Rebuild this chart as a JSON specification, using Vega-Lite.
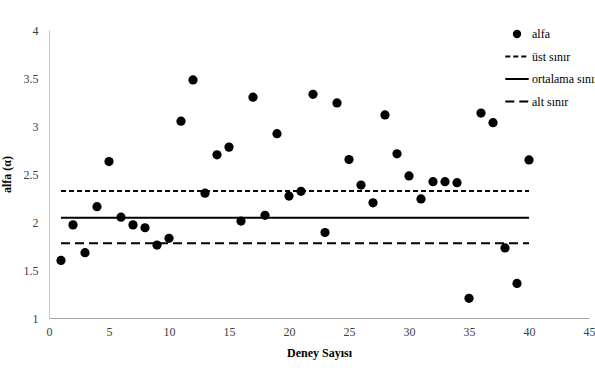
{
  "$schema": "https://vega.github.io/schema/vega-lite/v6.json",
  "width": 540,
  "height": 288,
  "autosize": {"type": "none"},
  "padding": {"left": 49, "top": 30, "right": 6, "bottom": 55},
  "background": "white",
  "config": {
    "view": {"stroke": null},
    "font": "Times New Roman",
    "axis": {
      "labelFont": "Times New Roman",
      "titleFont": "Times New Roman",
      "labelFontSize": 12,
      "titleFontSize": 12,
      "labelColor": "#404040",
      "titleColor": "#000000",
      "titleFontWeight": "bold",
      "domainColor": "#a6a6a6",
      "domainWidth": 1,
      "ticks": false,
      "grid": false
    },
    "legend": {
      "labelFont": "Times New Roman",
      "labelFontSize": 12,
      "labelColor": "#000000"
    }
  },
  "datasets": {
    "alfa": [
      {"deney": 1, "alfa": 1.60, "series": "alfa"},
      {"deney": 2, "alfa": 1.97, "series": "alfa"},
      {"deney": 3, "alfa": 1.68, "series": "alfa"},
      {"deney": 4, "alfa": 2.16, "series": "alfa"},
      {"deney": 5, "alfa": 2.63, "series": "alfa"},
      {"deney": 6, "alfa": 2.05, "series": "alfa"},
      {"deney": 7, "alfa": 1.97, "series": "alfa"},
      {"deney": 8, "alfa": 1.94, "series": "alfa"},
      {"deney": 9, "alfa": 1.76, "series": "alfa"},
      {"deney": 10, "alfa": 1.83, "series": "alfa"},
      {"deney": 11, "alfa": 3.05, "series": "alfa"},
      {"deney": 12, "alfa": 3.48, "series": "alfa"},
      {"deney": 13, "alfa": 2.30, "series": "alfa"},
      {"deney": 14, "alfa": 2.70, "series": "alfa"},
      {"deney": 15, "alfa": 2.78, "series": "alfa"},
      {"deney": 16, "alfa": 2.01, "series": "alfa"},
      {"deney": 17, "alfa": 3.30, "series": "alfa"},
      {"deney": 18, "alfa": 2.07, "series": "alfa"},
      {"deney": 19, "alfa": 2.92, "series": "alfa"},
      {"deney": 20, "alfa": 2.27, "series": "alfa"},
      {"deney": 21, "alfa": 2.32, "series": "alfa"},
      {"deney": 22, "alfa": 3.33, "series": "alfa"},
      {"deney": 23, "alfa": 1.89, "series": "alfa"},
      {"deney": 24, "alfa": 3.24, "series": "alfa"},
      {"deney": 25, "alfa": 2.65, "series": "alfa"},
      {"deney": 26, "alfa": 2.385, "series": "alfa"},
      {"deney": 27, "alfa": 2.20, "series": "alfa"},
      {"deney": 28, "alfa": 3.115, "series": "alfa"},
      {"deney": 29, "alfa": 2.71, "series": "alfa"},
      {"deney": 30, "alfa": 2.48, "series": "alfa"},
      {"deney": 31, "alfa": 2.24, "series": "alfa"},
      {"deney": 32, "alfa": 2.42, "series": "alfa"},
      {"deney": 33, "alfa": 2.42, "series": "alfa"},
      {"deney": 34, "alfa": 2.41, "series": "alfa"},
      {"deney": 35, "alfa": 1.205, "series": "alfa"},
      {"deney": 36, "alfa": 3.135, "series": "alfa"},
      {"deney": 37, "alfa": 3.035, "series": "alfa"},
      {"deney": 38, "alfa": 1.73, "series": "alfa"},
      {"deney": 39, "alfa": 1.36, "series": "alfa"},
      {"deney": 40, "alfa": 2.646, "series": "alfa"}
    ],
    "limits": [
      {"deney": 1, "alfa": 2.323, "series": "üst sınır"},
      {"deney": 40, "alfa": 2.323, "series": "üst sınır"},
      {"deney": 1, "alfa": 2.045, "series": "ortalama sınırı"},
      {"deney": 40, "alfa": 2.045, "series": "ortalama sınırı"},
      {"deney": 1, "alfa": 1.778, "series": "alt sınır"},
      {"deney": 40, "alfa": 1.778, "series": "alt sınır"}
    ]
  },
  "layer": [
    {
      "data": {"name": "limits"},
      "mark": {"type": "line", "color": "black", "strokeWidth": 2},
      "encoding": {
        "x": {
          "field": "deney", "type": "quantitative",
          "scale": {"domain": [0, 45], "nice": false},
          "axis": {"values": [0, 5, 10, 15, 20, 25, 30, 35, 40, 45], "title": "Deney Sayısı", "labelPadding": 8, "titlePadding": 10, "labelFlush": false}
        },
        "y": {
          "field": "alfa", "type": "quantitative",
          "scale": {"domain": [1, 4], "nice": false, "zero": false},
          "axis": {"values": [1, 1.5, 2, 2.5, 3, 3.5, 4], "format": "~g", "title": "alfa  (α)", "labelPadding": 11, "titlePadding": 10, "domainColor": "#c8c8c8"}
        },
        "detail": {"field": "series"},
        "strokeDash": {
          "field": "series", "type": "nominal",
          "scale": {
            "domain": ["alfa", "üst sınır", "ortalama sınırı", "alt sınır"],
            "range": [[1, 0], [5, 3], [1, 0], [9, 5]]
          },
          "legend": {
            "title": null,
            "orient": "none",
            "legendX": 462,
            "legendY": -2,
            "padding": 0,
            "rowPadding": 10.5,
            "labelOffset": 9,
            "symbolSize": 70,
            "symbolStrokeWidth": 2,
            "symbolStrokeColor": "black",
            "symbolFillColor": "black",
            "encode": {"symbols": {"update": {"stroke": {"value": "black"}, "fill": {"value": "black"}, "strokeWidth": {"signal": "datum.value === 'alfa' ? 0 : 2"}, "size": {"value": 70}}}}
          }
        }
      }
    },
    {
      "data": {"name": "alfa"},
      "mark": {"type": "point", "filled": true, "color": "black", "opacity": 1, "size": 85},
      "encoding": {
        "x": {"field": "deney", "type": "quantitative"},
        "y": {"field": "alfa", "type": "quantitative"},
        "shape": {
          "field": "series", "type": "nominal",
          "scale": {
            "domain": ["alfa", "üst sınır", "ortalama sınırı", "alt sınır"],
            "range": ["circle", "M-2.8,0L2.8,0", "M-2.8,0L2.8,0", "M-2.8,0L2.8,0"]
          },
          "legend": {
            "title": null,
            "orient": "none",
            "legendX": 462,
            "legendY": -2,
            "padding": 0,
            "rowPadding": 10.5,
            "labelOffset": 9,
            "symbolSize": 70,
            "symbolStrokeWidth": 2,
            "symbolStrokeColor": "black",
            "symbolFillColor": "black",
            "encode": {"symbols": {"update": {"stroke": {"value": "black"}, "fill": {"value": "black"}, "strokeWidth": {"signal": "datum.value === 'alfa' ? 0 : 2"}, "size": {"value": 70}}}}
          }
        }
      }
    }
  ]
}
